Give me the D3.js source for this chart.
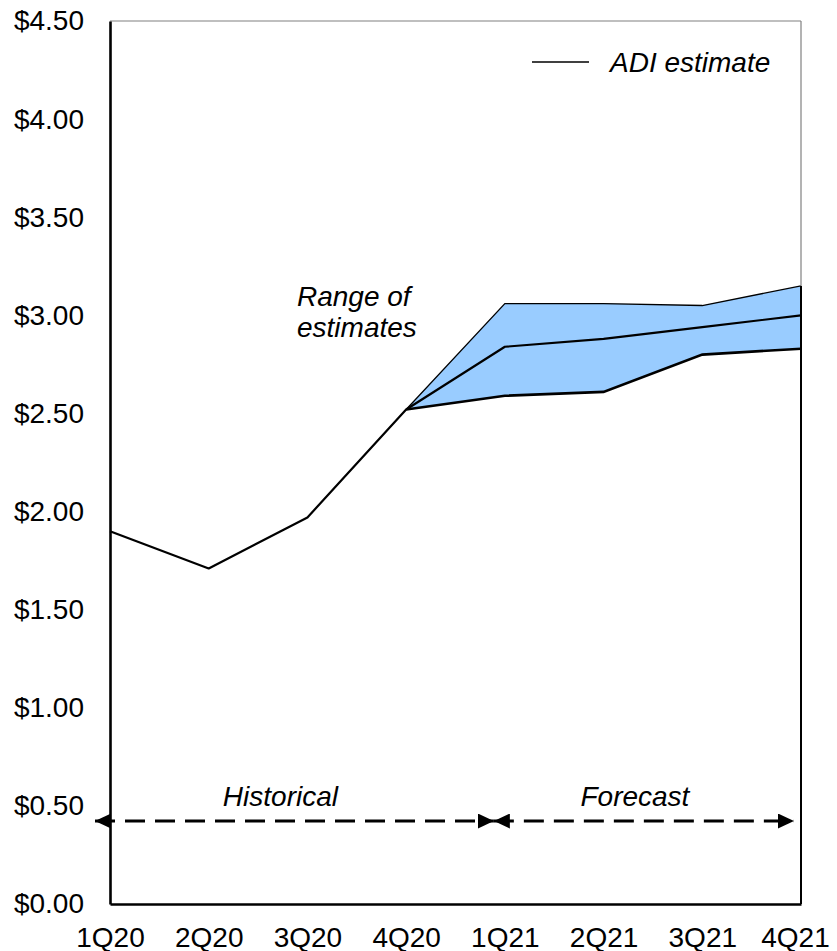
<!DOCTYPE html>
<html>
<head>
<meta charset="utf-8">
<script src="https://cdn.jsdelivr.net/npm/d3@7"></script>
<style>
  body { margin: 0; background: #fff; }
  text { font-family: "Liberation Sans", Arial, sans-serif; }
</style>
</head>
<body>
<div id="chart"></div>
<script>
var quarters = ["1Q20", "2Q20", "3Q20", "4Q20", "1Q21", "2Q21", "3Q21", "4Q21"];
var adiEstimate = [1.90, 1.71, 1.97, 2.52, 2.84, 2.88, 2.94, 3.00];
// range of estimates, starts at 4Q20
var rangeQuarters = ["4Q20", "1Q21", "2Q21", "3Q21", "4Q21"];
var rangeHigh = [2.52, 3.06, 3.06, 3.05, 3.15];
var rangeLow  = [2.52, 2.59, 2.61, 2.80, 2.83];
var yTicks = [0, 0.5, 1, 1.5, 2, 2.5, 3, 3.5, 4, 4.5];

var margin = {top: 21, right: 36, bottom: 47, left: 110},
    width = 837 - margin.left - margin.right,
    height = 951 - margin.top - margin.bottom;

var svg = d3.select("#chart").append("svg")
    .attr("width", 837)
    .attr("height", 951)
  .append("g")
    .attr("transform", "translate(" + margin.left + "," + margin.top + ")");

var x = d3.scalePoint().domain(quarters).range([0, width]);
var y = d3.scaleLinear().domain([0, 4.5]).range([height, 0]);

var rangeData = rangeQuarters.map(function(q, i) { return {q: q, hi: rangeHigh[i], lo: rangeLow[i]}; });
var estData = quarters.map(function(q, i) { return {q: q, v: adiEstimate[i]}; });

// band
svg.append("path")
    .datum(rangeData)
    .attr("fill", "#99ccff")
    .attr("d", d3.area()
        .x(function(d) { return x(d.q); })
        .y0(function(d) { return y(d.lo); })
        .y1(function(d) { return y(d.hi); }));

svg.append("path")
    .datum(rangeData)
    .attr("fill", "none").attr("stroke", "#000").attr("stroke-width", 1.3)
    .attr("d", d3.line().x(function(d) { return x(d.q); }).y(function(d) { return y(d.hi); }));

svg.append("path")
    .datum(rangeData)
    .attr("fill", "none").attr("stroke", "#000").attr("stroke-width", 2.6)
    .attr("d", d3.line().x(function(d) { return x(d.q); }).y(function(d) { return y(d.lo); }));

svg.append("path")
    .datum(estData)
    .attr("fill", "none").attr("stroke", "#000").attr("stroke-width", 2.2)
    .attr("stroke-linejoin", "round")
    .attr("d", d3.line().x(function(d) { return x(d.q); }).y(function(d) { return y(d.v); }));

// frame
svg.append("line").attr("x1", 0).attr("x2", width).attr("y1", 0).attr("y2", 0)
    .attr("stroke", "#808080").attr("stroke-width", 1.2);
svg.append("line").attr("x1", width).attr("x2", width).attr("y1", 0).attr("y2", y(rangeHigh[rangeHigh.length - 1]))
    .attr("stroke", "#808080").attr("stroke-width", 1.2);
svg.append("line").attr("x1", width).attr("x2", width).attr("y1", y(rangeHigh[rangeHigh.length - 1])).attr("y2", height)
    .attr("stroke", "#000").attr("stroke-width", 2);

// axes
var yAxis = svg.append("g")
    .call(d3.axisLeft(y).tickValues(yTicks).tickSize(0).tickPadding(26)
        .tickFormat(function(d) { return "$" + d3.format(".2f")(d); }));
yAxis.select(".domain").attr("stroke", "#000").attr("stroke-width", 2.6);
yAxis.selectAll("text").attr("font-size", 28).attr("font-family", "Liberation Sans, Arial, sans-serif").attr("fill", "#000");

var xAxis = svg.append("g")
    .attr("transform", "translate(0," + height + ")")
    .call(d3.axisBottom(x).tickSize(0).tickPadding(23));
xAxis.select(".domain").attr("stroke", "#000").attr("stroke-width", 2.6);
xAxis.selectAll("text").attr("font-size", 28).attr("font-family", "Liberation Sans, Arial, sans-serif").attr("fill", "#000");
xAxis.selectAll(".tick").filter(function(d) { return d === "4Q21"; }).select("text").attr("dx", -6);

// legend
svg.append("line").attr("x1", 422).attr("x2", 479).attr("y1", 41).attr("y2", 41)
    .attr("stroke", "#000").attr("stroke-width", 1.5);
svg.append("text").attr("x", 500).attr("y", 51)
    .attr("font-size", 28).attr("font-style", "italic").text("ADI estimate");

// range label
var rl = svg.append("text").attr("x", 187).attr("y", 285)
    .attr("font-size", 28).attr("font-style", "italic");
rl.append("tspan").attr("x", 187).text("Range of");
rl.append("tspan").attr("x", 187).attr("dy", 31).text("estimates");

// historical / forecast arrows
var defs = svg.append("defs");
defs.append("marker").attr("id", "arr")
    .attr("viewBox", "0 0 16 15").attr("refX", 16).attr("refY", 7.5)
    .attr("markerWidth", 16).attr("markerHeight", 15).attr("orient", "auto-start-reverse")
    .attr("markerUnits", "userSpaceOnUse")
  .append("path").attr("d", "M0,0L16,7.5L0,15Z").attr("fill", "#000");

var arrowY = 800;
function dashArrow(x1, x2) {
    svg.append("line").attr("x1", x1).attr("x2", x2).attr("y1", arrowY).attr("y2", arrowY)
        .attr("stroke", "#000").attr("stroke-width", 3)
        .attr("stroke-dasharray", "20,10")
        .attr("marker-start", "url(#arr)").attr("marker-end", "url(#arr)");
}
dashArrow(x("1Q20") - 15, x("1Q21") - 11);
dashArrow(x("1Q21") - 11, x("4Q21") - 7);

svg.append("text").attr("x", (x("1Q20") + x("1Q21")) / 2 - 27).attr("y", 785)
    .attr("text-anchor", "middle").attr("font-size", 28).attr("font-style", "italic").text("Historical");
svg.append("text").attr("x", (x("1Q21") + x("4Q21")) / 2 - 18).attr("y", 785)
    .attr("text-anchor", "middle").attr("font-size", 28).attr("font-style", "italic").text("Forecast");
</script>
</body>
</html>
